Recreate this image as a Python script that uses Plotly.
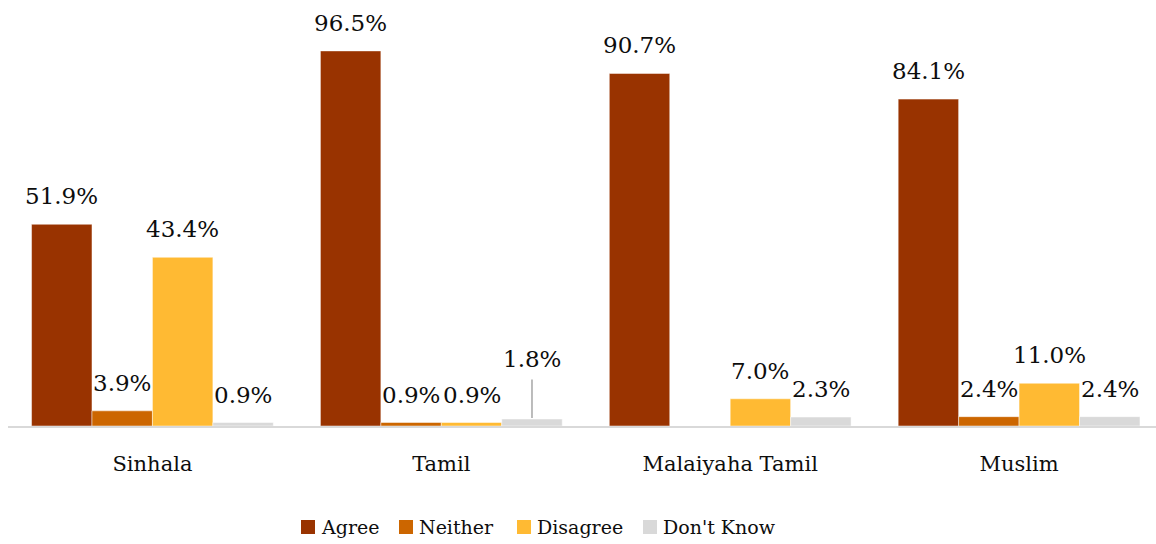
import plotly.graph_objects as go

# Survey responses by ethnic group (percent)
groups = ["Sinhala", "Tamil", "Malaiyaha Tamil", "Muslim"]
agree = [51.9, 96.5, 90.7, 84.1]
neither = [3.9, 0.9, None, 2.4]
disagree = [43.4, 0.9, 7.0, 11.0]
dont_know = [0.9, 1.8, 2.3, 2.4]

series_names = ["Agree", "Neither", "Disagree", "Don't Know"]
series_values = [agree, neither, disagree, dont_know]
series_colors = ["#993300", "#CC6600", "#FFBA33", "#D9D9D9"]

FONT = "DejaVu Serif"
TEXT = "#0d0d0d"
BARGAP = 0.163

W, H = 1156, 544
ML, MR, MT, MB = 8, 0, 0, 118
PW, PH = W - ML - MR, H - MT - MB


def px_to_paper(px, py):
    return (px - ML) / PW, (H - MB - py) / PH


fig = go.Figure()
for name, vals, color in zip(series_names, series_values, series_colors):
    fig.add_trace(go.Bar(
        name=name, x=groups, y=vals, showlegend=False,
        marker=dict(color=color, line=dict(width=0.8, color="rgba(255,255,255,0.6)")),
    ))

# value labels above each bar
n = len(series_names)
bw = (1 - BARGAP) / n
for si, (name, vals) in enumerate(zip(series_names, series_values)):
    off = -(1 - BARGAP) / 2 + bw * (si + 0.5)
    for gi, v in enumerate(vals):
        if v is None:
            continue
        x = gi + off
        if name == "Don't Know" and groups[gi] == "Tamil":
            fig.add_annotation(
                x=x, y=v, xref="x", yref="y", text=f"{v:.1f}%",
                showarrow=True, arrowhead=0, arrowwidth=1.5, arrowcolor="#A6A6A6",
                ax=0, ay=-60, standoff=1, borderpad=7,
                font=dict(family=FONT, size=23, color=TEXT),
            )
        else:
            fig.add_annotation(
                x=x, y=v, xref="x", yref="y", text=f"{v:.1f}%",
                showarrow=False, yanchor="middle", yshift=28,
                font=dict(family=FONT, size=23, color=TEXT),
            )

# legend row: colour swatch followed by its label
legend_swatch_x = [301, 399, 517, 643]
legend_cy = 527
for name, color, sx in zip(series_names, series_colors, legend_swatch_x):
    x0, y0 = px_to_paper(sx, legend_cy + 7)
    x1, y1 = px_to_paper(sx + 14, legend_cy - 7)
    fig.add_shape(type="rect", xref="paper", yref="paper",
                  x0=x0, x1=x1, y0=y0, y1=y1,
                  fillcolor=color, line=dict(width=0))
    tx, ty = px_to_paper(sx + 18, legend_cy)
    fig.add_annotation(x=tx, y=ty, xref="paper", yref="paper", text=name,
                       showarrow=False, xanchor="left", yanchor="middle",
                       font=dict(family=FONT, size=19, color=TEXT))

fig.update_layout(
    width=W, height=H,
    margin=dict(l=ML, r=MR, t=MT, b=MB),
    barmode="group", bargap=BARGAP, bargroupgap=0,
    paper_bgcolor="white", plot_bgcolor="white",
    font=dict(family=FONT, color=TEXT),
    showlegend=False,
    xaxis=dict(
        range=[-0.5, 3.474], showline=True, linecolor="#D9D9D9", linewidth=2,
        showgrid=False, ticks="", ticklabelstandoff=18,
        tickfont=dict(family=FONT, size=21, color=TEXT),
        fixedrange=True,
    ),
    yaxis=dict(range=[0, 109.6], visible=False, fixedrange=True),
)

fig.write_html("out.html")
